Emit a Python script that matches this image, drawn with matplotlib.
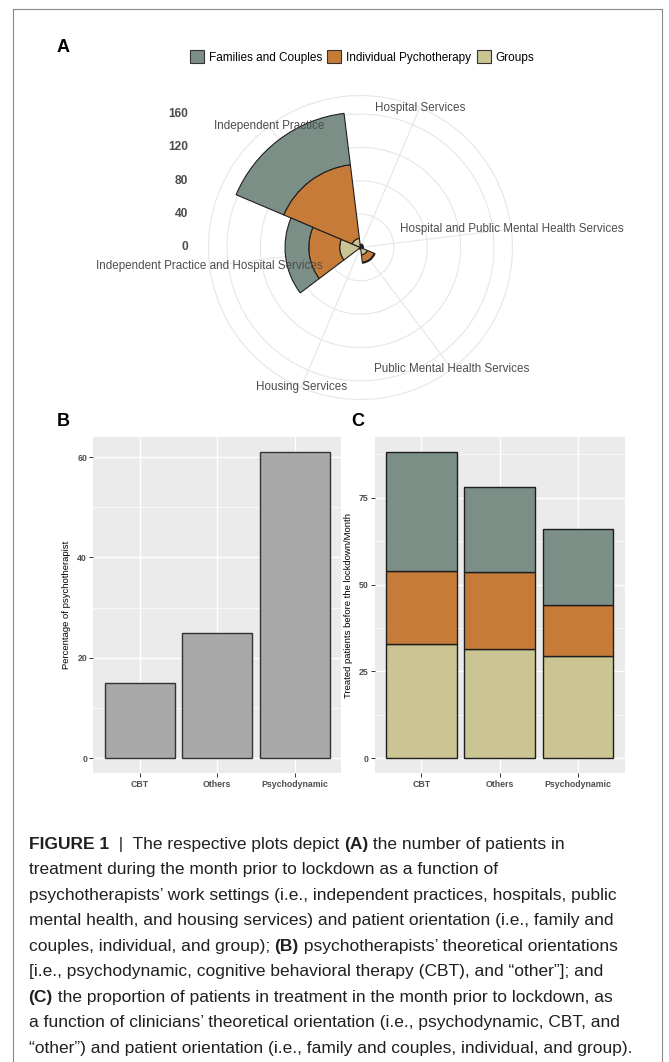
import numpy as np
import matplotlib
matplotlib.use("Agg")
import matplotlib.pyplot as plt
from matplotlib.patches import Patch
from matplotlib.lines import Line2D
from matplotlib import font_manager

# figure size in pixels (dpi 100)
W, H = 669, 1062
DPI = 100

# Panel A: work settings (clockwise from the top)
settings = [
    "Hospital Services",
    "Hospital and Public Mental Health Services",
    "Public Mental Health Services",
    "Housing Services",
    "Independent Practice and Hospital Services",
    "Independent Practice",
]
fam_a = [1, 0, 1, 1, 28.5, 62]
ind_a = [2, 2, 9, 1, 37, 89]
grp_a = [1, 1, 9, 0, 25, 11]
r_ticks = [0, 40, 80, 120, 160]

# Panel B / C: theoretical orientation
orientations = ["CBT", "Others", "Psychodynamic"]
pct_b = [15, 25, 61]
grp_c = [32.9, 31.4, 29.4]
ind_c = [21.1, 22.1, 14.7]
fam_c = [34.2, 24.7, 21.8]

legend_labels = ["Families and Couples", "Individual Pychotherapy", "Groups"]
COL_FAM = "#7B8F87"
COL_IND = "#C67C38"
COL_GRP = "#CAC592"
EDGE = "#1E1E1E"
TXT = "#4D4D4D"

caption_lines = [
    [("FIGURE 1", True), ("  |  The respective plots depict ", False), ("(A)", True),
     (" the number of patients in", False)],
    [("treatment during the month prior to lockdown as a function of", False)],
    [("psychotherapists\u2019 work settings (i.e., independent practices, hospitals, public", False)],
    [("mental health, and housing services) and patient orientation (i.e., family and", False)],
    [("couples, individual, and group); ", False), ("(B)", True),
     (" psychotherapists\u2019 theoretical orientations", False)],
    [("[i.e., psychodynamic, cognitive behavioral therapy (CBT), and \u201cother\u201d]; and", False)],
    [("(C)", True), (" the proportion of patients in treatment in the month prior to lockdown, as", False)],
    [("a function of clinicians\u2019 theoretical orientation (i.e., psychodynamic, CBT, and", False)],
    [("\u201cother\u201d) and patient orientation (i.e., family and couples, individual, and group).", False)],
]


def first_font(names):
    for name in names:
        try:
            font_manager.findfont(font_manager.FontProperties(family=name),
                                  fallback_to_default=False)
            return name
        except ValueError:
            pass
    return "DejaVu Sans"


PLOT_FONT = first_font(["Liberation Sans", "Arial", "DejaVu Sans"])
CAP_FONT = first_font(["Liberation Sans Narrow", "Liberation Sans"])
plt.rcParams["font.family"] = [PLOT_FONT, "DejaVu Sans"]


def frac_box(left, top, right, bottom):
    """pixel box (top-left origin) -> figure fraction [l, b, w, h]"""
    return [left / W, 1 - bottom / H, (right - left) / W, (bottom - top) / H]


fig = plt.figure(figsize=(W / DPI, H / DPI), dpi=DPI)

# ---------------- Panel A: polar stacked bars ----------------
cx, cy, rad = 360.5, 247.5, 152
axA = fig.add_axes(frac_box(cx - rad, cy - rad, cx + rad, cy + rad), projection="polar")
n = len(settings)
theta = (np.arange(n) + 0.5) * 2 * np.pi / n
width = 2 * np.pi / n
tot_a = np.array(fam_a) + np.array(ind_a) + np.array(grp_a)
r_lim = tot_a.max() / 0.4 * 0.45

axA.set_theta_zero_location("N", offset=7)
axA.set_theta_direction(-1)
axA.bar(theta, grp_a, width=width, color=COL_GRP, edgecolor=EDGE, linewidth=0.8)
axA.bar(theta, ind_a, width=width, bottom=grp_a, color=COL_IND, edgecolor=EDGE, linewidth=0.8)
axA.bar(theta, fam_a, width=width, bottom=np.array(grp_a) + np.array(ind_a),
        color=COL_FAM, edgecolor=EDGE, linewidth=0.8)
axA.set_ylim(0, r_lim)
axA.set_xticks(theta)
axA.set_xticklabels([])
axA.set_yticks(r_ticks[1:])
axA.set_yticklabels([])
axA.set_axisbelow(True)
axA.grid(True, color="#E6E6E6", linewidth=0.8)
axA.spines["polar"].set_color("#E6E6E6")
axA.spines["polar"].set_linewidth(0.8)
axA.tick_params(length=0)

for t, lab in zip(theta, settings):
    axA.text(t, r_lim, lab, ha="center", va="center", fontsize=8.4, color=TXT)

# radial labels on the left, ggplot style
label_x = (188 - (cx - rad)) / (2 * rad)
for v in r_ticks:
    axA.text(label_x, 0.5 + 0.5 * v / r_lim, str(v), transform=axA.transAxes,
             ha="right", va="center", fontsize=8.6, fontweight="bold", color=TXT)

handles = [Patch(facecolor=c, edgecolor="#333333", linewidth=0.8)
           for c in (COL_FAM, COL_IND, COL_GRP)]
fig.legend(handles, legend_labels, loc="center", bbox_to_anchor=(362 / W, 1 - 57 / H),
           ncol=3, frameon=False, fontsize=8.5, handlelength=1.2, handleheight=1.2,
           handletextpad=0.4, columnspacing=0.45, borderpad=0)


# ---------------- Panels B and C ----------------
def gg_axes(box):
    ax = fig.add_axes(box)
    ax.set_facecolor("#EBEBEB")
    for s in ax.spines.values():
        s.set_visible(False)
    ax.set_axisbelow(True)
    ax.grid(True, which="major", color="white", linewidth=1.0)
    ax.grid(True, which="minor", axis="y", color="white", linewidth=0.5)
    ax.tick_params(axis="both", which="major", length=3, width=0.7, color="#333333",
                   pad=1.5, labelsize=6.3, labelcolor=TXT)
    ax.tick_params(axis="both", which="minor", length=0)
    x = np.arange(len(orientations))
    ax.set_xticks(x)
    ax.set_xticklabels(orientations, fontweight="bold")
    ax.set_xlim(-0.6, len(orientations) - 0.4)
    return ax, x


axB, xb = gg_axes(frac_box(93.3, 436.7, 341.3, 773.3))
axB.bar(xb, pct_b, width=0.9, color="#A9A9A9", edgecolor="#333333", linewidth=1.0)
top_b = max(pct_b)
axB.set_ylim(-0.05 * top_b, 1.05 * top_b)
axB.set_yticks([0, 20, 40, 60])
axB.set_yticks([10, 30, 50], minor=True)
axB.set_yticklabels(["0", "20", "40", "60"], fontweight="bold")
axB.set_ylabel("Percentage of psychotherapist", fontsize=6.8)
axB.yaxis.set_label_coords(-(93.3 - 70.7) / 248, 0.5)

axC, xc = gg_axes(frac_box(374.6, 436.7, 624.6, 773.3))
axC.bar(xc, grp_c, width=0.9, color=COL_GRP, edgecolor=EDGE, linewidth=1.0)
axC.bar(xc, ind_c, width=0.9, bottom=grp_c, color=COL_IND, edgecolor=EDGE, linewidth=1.0)
axC.bar(xc, fam_c, width=0.9, bottom=np.array(grp_c) + np.array(ind_c),
        color=COL_FAM, edgecolor=EDGE, linewidth=1.0)
top_c = max(np.array(grp_c) + np.array(ind_c) + np.array(fam_c))
axC.set_ylim(-0.05 * top_c, 1.05 * top_c)
axC.set_yticks([0, 25, 50, 75])
axC.set_yticks([12.5, 37.5, 62.5, 87.5], minor=True)
axC.set_yticklabels(["0", "25", "50", "75"], fontweight="bold")
axC.set_ylabel("Treated patients before the lockdown/Month", fontsize=6.8)
axC.yaxis.set_label_coords(-(374.6 - 353) / 250, 0.5)

# panel letters
for letter, (lx, ly) in zip("ABC", [(63, 48), (63, 422), (358, 422)]):
    fig.text(lx / W, 1 - ly / H, letter, ha="center", va="center",
             fontsize=13, fontweight="bold", color="black")

# frame around the figure
frame_kw = dict(color="#8A8A8A", linewidth=0.8, transform=fig.transFigure)
fig.add_artist(Line2D([13 / W, 662 / W], [1 - 9 / H, 1 - 9 / H], **frame_kw))
fig.add_artist(Line2D([13 / W, 13 / W], [1 - 9 / H, 0], **frame_kw))
fig.add_artist(Line2D([662 / W, 662 / W], [1 - 9 / H, 0], **frame_kw))

# ---------------- caption ----------------
renderer = fig.canvas.get_renderer()


def text_width(s, bold, size):
    kw = dict(fontsize=size, family=[CAP_FONT, "DejaVu Sans"],
              fontweight="bold" if bold else "normal")
    t1 = fig.text(0, 0, "x" + s + "x", **kw)
    t2 = fig.text(0, 0, "xx", **kw)
    w = t1.get_window_extent(renderer).width - t2.get_window_extent(renderer).width
    t1.remove()
    t2.remove()
    return w


# fit size so that the third line spans the same width as in the print
ref_size = 12.0
w_ref = sum(text_width(s, b, ref_size) for s, b in caption_lines[2])
cap_size = ref_size * (616.0 - 28.6) / w_ref

x0, y0, step = 28.6, 849.0, 25.46
for i, line in enumerate(caption_lines):
    x = x0
    for s, bold in line:
        fig.text(x / W, 1 - (y0 + i * step) / H, s, fontsize=cap_size,
                 family=[CAP_FONT, "DejaVu Sans"],
                 fontweight="bold" if bold else "normal",
                 color="#231F20", ha="left", va="baseline")
        x += text_width(s, bold, cap_size)

fig.savefig("out.png", dpi=DPI)
